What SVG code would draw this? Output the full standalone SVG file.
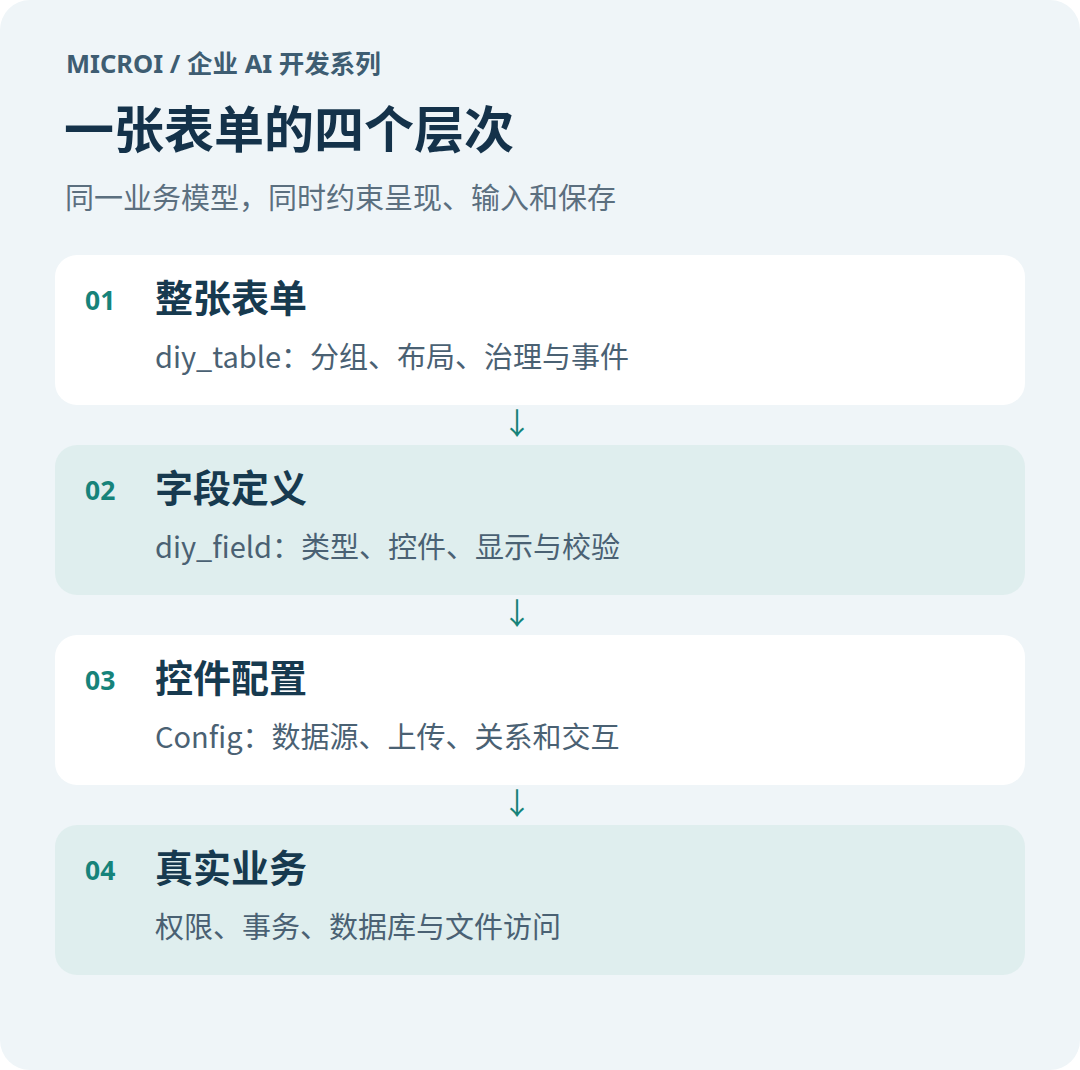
<svg xmlns="http://www.w3.org/2000/svg" width="1080" height="1070" viewBox="0 0 1080 1070">
<style>
.f{font-family:"Noto Sans CJK SC",sans-serif}
.l{font-family:"Noto Sans","Noto Sans CJK SC",sans-serif}
.kick{font-size:25.5px;font-weight:700;fill:#3e5d72}
.title{font-size:50px;font-weight:700;fill:#14324a}
.sub{font-size:29px;fill:#5b6f7f}
.num{font-size:26.5px;font-weight:700;fill:#16837a}
.ct{font-size:38px;font-weight:700;fill:#173a4f}
.cd{font-size:29px;fill:#4a6173}
.arr{font-size:30px;fill:#16837a;text-anchor:middle}
.w{fill:#ffffff}
.t{fill:#dfeeee}
</style>
<rect x="0" y="0" width="1080" height="1070" fill="#ffffff"/>
<rect x="0" y="0" width="1080" height="1070" rx="30" fill="#eff5f8"/>
<text class="l kick" x="66" y="73">MICROI / 企业 AI 开发系列</text>
<text class="f title" x="64" y="148">一张表单的四个层次</text>
<text class="f sub" x="65" y="209">同一业务模型，同时约束呈现、输入和保存</text>
<g id="node1">
<rect class="w" x="55" y="255" width="970" height="150" rx="22"/>
<text class="l num" x="85" y="310">01</text>
<text class="f ct" x="155" y="312">整张表单</text>
<text class="f cd" x="155" y="368">diy_table：分组、布局、治理与事件</text>
</g>
<g id="node2">
<rect class="t" x="55" y="445" width="970" height="150" rx="22"/>
<text class="l num" x="85" y="500">02</text>
<text class="f ct" x="155" y="502">字段定义</text>
<text class="f cd" x="155" y="558">diy_field：类型、控件、显示与校验</text>
</g>
<g id="node3">
<rect class="w" x="55" y="635" width="970" height="150" rx="22"/>
<text class="l num" x="85" y="690">03</text>
<text class="f ct" x="155" y="692">控件配置</text>
<text class="f cd" x="155" y="748">Config：数据源、上传、关系和交互</text>
</g>
<g id="node4">
<rect class="t" x="55" y="825" width="970" height="150" rx="22"/>
<text class="l num" x="85" y="880">04</text>
<text class="f ct" x="155" y="882">真实业务</text>
<text class="f cd" x="155" y="938">权限、事务、数据库与文件访问</text>
</g>
<g id="connectors">
<text class="f arr" x="517" y="434">↓</text>
<text class="f arr" x="517" y="624">↓</text>
<text class="f arr" x="517" y="814">↓</text>
</g>
</svg>
